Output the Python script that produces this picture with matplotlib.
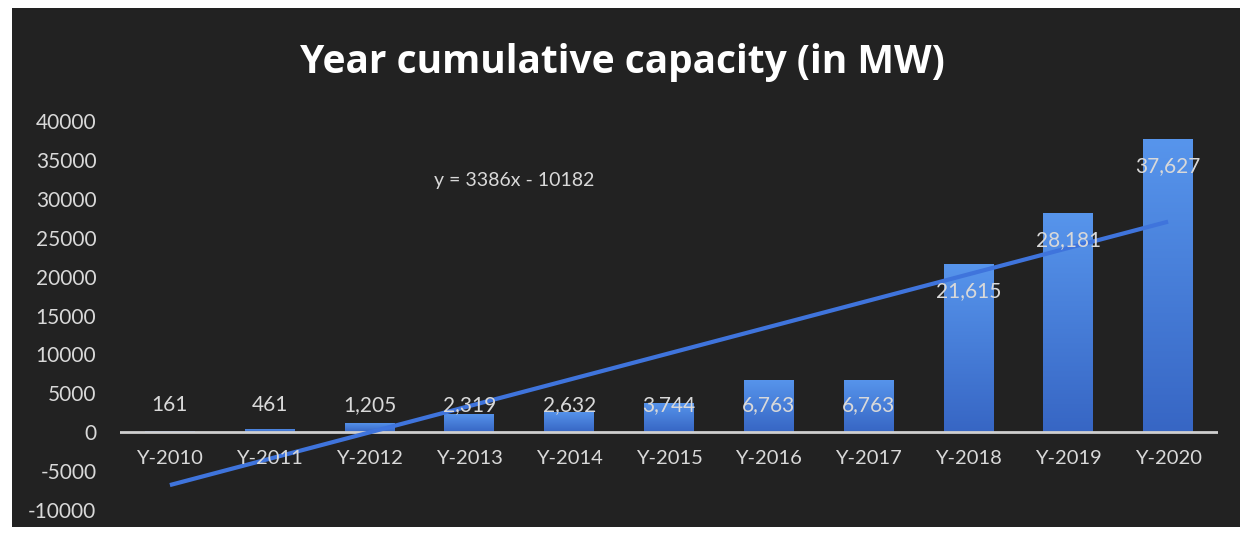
import numpy as np
import matplotlib
matplotlib.use("Agg")
import matplotlib.pyplot as plt
from matplotlib.patches import Rectangle
from matplotlib.colors import LinearSegmentedColormap

categories = ["Y-2010", "Y-2011", "Y-2012", "Y-2013", "Y-2014", "Y-2015",
              "Y-2016", "Y-2017", "Y-2018", "Y-2019", "Y-2020"]
capacity = [161, 461, 1205, 2319, 2632, 3744, 6763, 6763, 21615, 28181, 37627]
y_ticks = [-10000, -5000, 0, 5000, 10000, 15000, 20000, 25000, 30000, 35000, 40000]
title = "Year cumulative capacity (in MW)"

plt.rcParams['font.family'] = ['Lato', 'DejaVu Sans']

W, H = 1244, 535
fig = plt.figure(figsize=(W / 100, H / 100), dpi=100)
fig.patch.set_facecolor("white")

# dark chart panel (photographed slide)
panel = Rectangle((12 / W, 8 / H), (1240 - 12) / W, (527 - 8) / H,
                  transform=fig.transFigure, facecolor="#222222",
                  edgecolor="none", zorder=0)
fig.add_artist(panel)

ax = fig.add_axes([120 / W, (535 - 510) / H, (1218 - 120) / W, (510 - 121) / H])
ax.set_facecolor("none")
ax.patch.set_alpha(0)

x = np.arange(len(categories))
bars = ax.bar(x, capacity, width=0.5, color="#4a84e0", zorder=2)

# vertical gradient on bars
cmap = LinearSegmentedColormap.from_list("bg", ["#3766c4", "#5795ec"])
grad = np.linspace(0, 1, 256).reshape(-1, 1)
for b in bars:
    x0, y0 = b.get_x(), b.get_y()
    w, h = b.get_width(), b.get_height()
    im = ax.imshow(grad, extent=[x0, x0 + w, y0, y0 + h], origin="lower",
                   cmap=cmap, aspect="auto", zorder=2.1)
    im.set_clip_path(b)

ax.set_xlim(-0.5, len(categories) - 0.5)
ax.set_ylim(-10000, 40000)

# zero line
ax.axhline(0, color="#cfcfcf", lw=2, zorder=3)

# trendline (linear fit)
xs = x + 1
slope, intercept = np.polyfit(xs, capacity, 1)
ax.plot(x, slope * xs + intercept, color="#3f74dc", lw=3, zorder=4,
        solid_capstyle="butt")
ax.text(3.45, 32400, f"y = {slope:.0f}x - {abs(intercept):.0f}",
        color="#d9d9d9", fontsize=14, ha="center", va="center", zorder=5)

# data labels
for xi, v in zip(x, capacity):
    ly = max(v, 6900) - 3450
    ax.text(xi, ly, f"{v:,}", color="#d9d9d9", fontsize=15,
            ha="center", va="center", zorder=5)

# category labels below zero line
for xi, c in zip(x, categories):
    ax.annotate(c, (xi, 0), xytext=(0, -19), textcoords="offset points",
                color="#d9d9d9", fontsize=14.5, ha="center", va="center",
                zorder=5)

ax.set_xticks([])
ax.set_yticks(y_ticks)
ax.set_yticklabels([str(t) for t in y_ticks], color="#d9d9d9", fontsize=15)
ax.tick_params(axis="y", length=0, pad=17)
for s in ax.spines.values():
    s.set_visible(False)

fig.text(622 / W, 1 - 62 / H, title, color="white", fontsize=28,
         fontweight="bold", ha="center", va="center",
         family=["Open Sans", "DejaVu Sans"])

fig.savefig("out.png", dpi=100, facecolor=fig.get_facecolor())
